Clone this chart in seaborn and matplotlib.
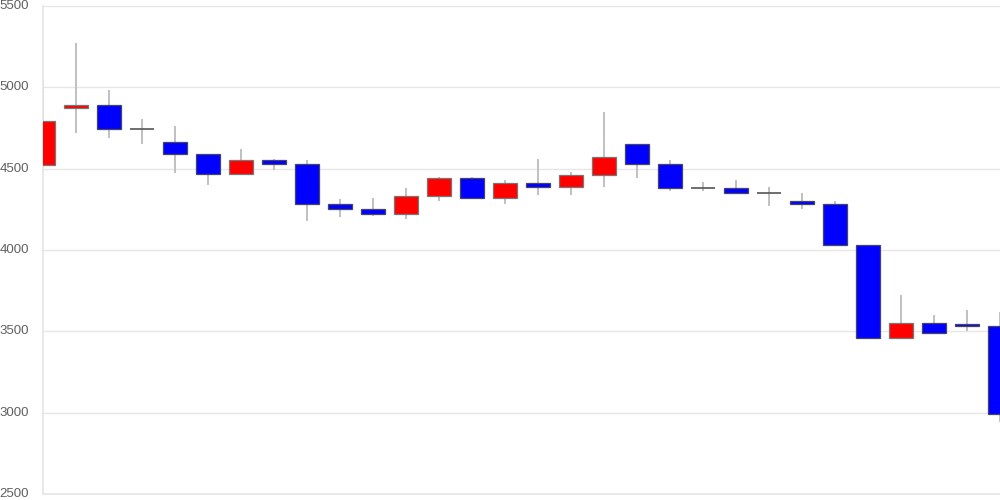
import seaborn as sns
import matplotlib.pyplot as plt
import pandas as pd
import numpy as np

# --- データ (チャートから読み取った値) ---
opens  = [4521, 4871, 4890, 4742, 4663, 4591, 4470, 4552, 4531, 4282,
          4251, 4220, 4331, 4441, 4321, 4411, 4390, 4462, 4650, 4531,
          4382, 4380, 4351, 4300, 4282, 4032, 3461, 3553, 3545, 3532]
closes = [4792, 4890, 4742, 4742, 4591, 4470, 4552, 4531, 4282, 4251,
          4220, 4331, 4441, 4321, 4411, 4390, 4462, 4571, 4531, 4380,
          4382, 4351, 4351, 4282, 4032, 3461, 3553, 3491, 3532, 2992]
highs  = [5045, 5271, 4984, 4804, 4763, 4591, 4622, 4560, 4552, 4312,
          4320, 4382, 4451, 4451, 4431, 4560, 4481, 4851, 4650, 4552,
          4421, 4431, 4390, 4351, 4300, 4032, 3725, 3602, 3633, 3616]
lows   = [4510, 4722, 4691, 4652, 4472, 4402, 4462, 4491, 4181, 4202,
          4212, 4192, 4300, 4321, 4282, 4341, 4341, 4390, 4441, 4362,
          4362, 4351, 4271, 4251, 4032, 3461, 3461, 3491, 3502, 2940]
y_ticks = [2500, 3000, 3500, 4000, 4500, 5000, 5500]

df = pd.DataFrame({'open': opens, 'close': closes, 'high': highs, 'low': lows})
df['x'] = np.arange(len(df))

# --- スタイル ---
sns.set_theme(style='whitegrid')
plt.rcParams.update({
    'font.family': ['Liberation Sans', 'DejaVu Sans'],
    'axes.edgecolor': '#e6e6e6',
    'grid.color': '#e6e6e6',
    'ytick.color': '#e6e6e6',
    'ytick.labelcolor': '#606060',
    'ytick.labelsize': 9.5,
})

fig = plt.figure(figsize=(10, 5), dpi=100)
ax = fig.add_axes([0.043, 0.012, 0.957, 0.976])

# ヒゲ
ax.vlines(df['x'], df['low'], df['high'], color='#bbbbbb', linewidth=1.3, zorder=2)

# 実体
body_bottom = df[['open', 'close']].min(axis=1)
body_height = (df['close'] - df['open']).abs()
colors = np.where(df['close'] > df['open'], '#ff0000', '#0000ff')
edges = np.where(df['close'] > df['open'], '#777777', '#444466')
solid = body_height > 0
ax.bar(df['x'][solid], body_height[solid], bottom=body_bottom[solid], width=0.73,
       color=colors[solid], edgecolor=edges[solid], linewidth=0.9, zorder=3)

# 同値 (十字線)
doji = df[~solid]
ax.hlines(doji['open'], doji['x'] - 0.365, doji['x'] + 0.365,
          color='#555555', linewidth=1.2, zorder=3)

ax.set_xlim(0, len(df) - 1)
ax.set_ylim(2500, 5500)
ax.set_yticks(y_ticks)
ax.set_xticks([])
ax.grid(axis='x', visible=False)
ax.tick_params(axis='y', length=9, width=1, pad=1)
ax.spines['top'].set_visible(False)
ax.spines['right'].set_visible(False)
for lab in ax.get_yticklabels():
    lab.set_verticalalignment('center')

fig.savefig('out.png', dpi=100)
